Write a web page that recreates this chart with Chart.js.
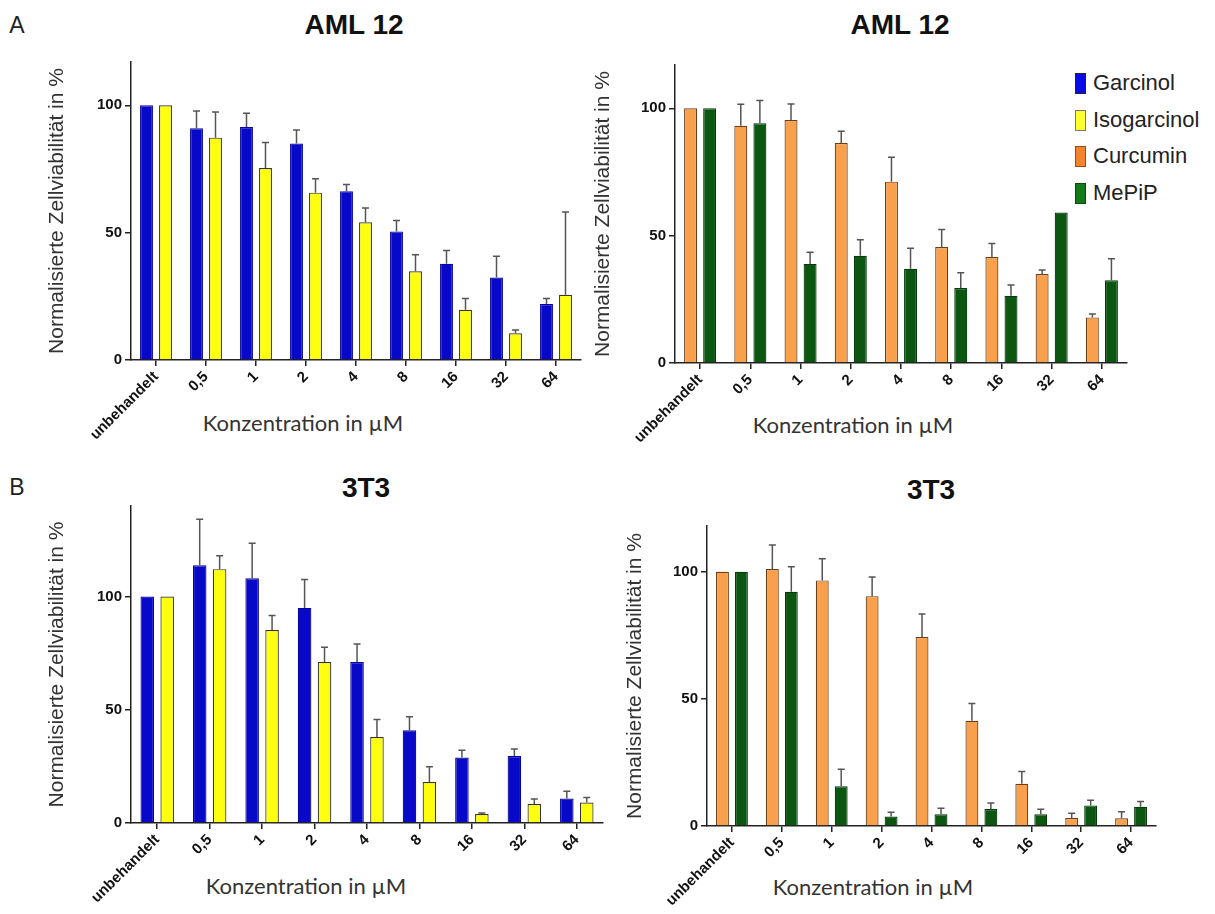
<!DOCTYPE html>
<html><head><meta charset="utf-8">
<script src="https://cdn.jsdelivr.net/npm/chart.js@4.4.0/dist/chart.umd.min.js"></script>
<style>
html,body{margin:0;padding:0;background:#fff;}
body{width:1215px;height:914px;position:relative;overflow:hidden;font-family:"Liberation Sans",Arial,sans-serif;}
canvas{position:absolute;}
.t{position:absolute;transform:translate(-50%,-50%);white-space:nowrap;color:#111;line-height:1;}
.panel{font-size:23px;color:#222;}
.title{font-size:28px;font-weight:bold;}
.xt{font-family:Lato,"Open Sans",sans-serif;font-size:22px;color:#333;}
.lg{position:absolute;left:1075px;display:flex;align-items:center;transform:translateY(-50%);}
.lg span.b{display:inline-block;width:11px;height:21px;box-sizing:border-box;border:1px solid #444;margin-right:7px;}
.lg span.l{font-size:22px;color:#222;}
</style></head><body>

<div class="t panel" style="left:17px;top:25px">A</div>
<div class="t panel" style="left:17px;top:487px">B</div>
<div class="t title" style="left:354px;top:25px">AML 12</div>
<div class="t title" style="left:900px;top:25px">AML 12</div>
<div class="t title" style="left:366px;top:488px">3T3</div>
<div class="t title" style="left:931px;top:490px">3T3</div>
<div class="t xt" style="left:303px;top:423px">Konzentration in µM</div>
<div class="t xt" style="left:853px;top:425px">Konzentration in µM</div>
<div class="t xt" style="left:306px;top:886px">Konzentration in µM</div>
<div class="t xt" style="left:873px;top:887px">Konzentration in µM</div>
<div id="legend"></div>

<canvas id="c1" width="600" height="420" style="left:0px;top:40px"></canvas>
<canvas id="c2" width="635" height="420" style="left:580px;top:40px"></canvas>
<canvas id="c3" width="612" height="434" style="left:0px;top:480px"></canvas>
<canvas id="c4" width="605" height="434" style="left:610px;top:480px"></canvas>

<script>
// ---- data ----
const categories = ['unbehandelt', '0,5', '1', '2', '4', '8', '16', '32', '64'];
const seriesNames = ['Garcinol', 'Isogarcinol', 'Curcumin', 'MePiP'];
const yTicks = [0, 50, 100];

// AML 12
const garcinolAML    = [100, 91.0, 91.5, 85.0, 66.3, 50.5, 37.8, 32.4, 22.0];
const garcinolAMLErr = [0, 6.8, 5.4, 5.3, 2.6, 4.3, 5.2, 8.3, 2.1];
const isoAML         = [100, 87.3, 75.4, 65.7, 54.1, 34.8, 19.7, 10.5, 25.6];
const isoAMLErr      = [0, 10.1, 10.0, 5.5, 5.6, 6.5, 4.4, 1.3, 32.5];
const curcuminAML    = [100, 93.1, 95.4, 86.4, 71.2, 45.5, 41.6, 34.9, 17.9];
const curcuminAMLErr = [0, 8.5, 6.3, 4.6, 9.6, 6.9, 5.3, 1.6, 1.3];
const mepipAML       = [100, 94.1, 38.9, 42.1, 37.0, 29.4, 26.4, 59.1, 32.5];
const mepipAMLErr    = [0, 9.0, 4.6, 6.3, 8.1, 6.0, 4.2, 0, 8.4];

// 3T3
const garcinol3T3    = [100, 113.8, 108.1, 95.0, 71.1, 41.0, 28.9, 29.6, 10.8];
const garcinol3T3Err = [0, 20.3, 15.5, 12.5, 7.9, 5.9, 3.2, 3.1, 3.2];
const iso3T3         = [100, 112.1, 85.2, 71.1, 38.0, 18.1, 4.0, 8.4, 9.0];
const iso3T3Err      = [0, 5.9, 6.4, 6.5, 7.7, 6.7, 0.4, 2.2, 2.3];
const curcumin3T3    = [100, 101.1, 96.6, 90.4, 74.3, 41.4, 16.6, 3.1, 3.0];
const curcumin3T3Err = [0, 9.4, 8.5, 7.5, 9.1, 6.8, 4.8, 1.9, 2.6];
const mepip3T3       = [100, 92.1, 15.6, 3.7, 4.6, 6.7, 4.6, 8.1, 7.6];
const mepip3T3Err    = [0, 9.9, 6.7, 1.7, 2.4, 2.3, 2.0, 2.0, 2.0];

// ---- styles ----
const styles = {
  Garcinol:    {bg:'#0808c8', border:'#06069a', legend:'#0a0ae6', legendBorder:'#223'},
  Isogarcinol: {bg:'#ffff10', border:'#333333', legend:'#ffff30', legendBorder:'#777'},
  Curcumin:    {bg:'#f9a04c', border:'#6b3e1a', legend:'#f5822c', legendBorder:'#8a5020'},
  MePiP:       {bg:'#0b5712', border:'#063a0a', legend:'#127a16', legendBorder:'#0a4a0c'}
};

const legendRows = [83, 120, 156, 193];
const lg = document.getElementById('legend');
seriesNames.forEach((n, i) => {
  const d = document.createElement('div');
  d.className = 'lg';
  d.style.top = legendRows[i] + 'px';
  d.innerHTML = '<span class="b" style="background:' + styles[n].legend + ';border-color:' + styles[n].legendBorder + '"></span><span class="l">' + n + '</span>';
  lg.appendChild(d);
});

const errorBars = {
  id: 'errorBars',
  afterDatasetsDraw(chart) {
    const ctx = chart.ctx, y = chart.scales.y;
    chart.data.datasets.forEach((ds, i) => {
      if (!ds.errors) return;
      const meta = chart.getDatasetMeta(i);
      meta.data.forEach((bar, j) => {
        const e = ds.errors[j];
        if (!e) return;
        const top = y.getPixelForValue(ds.data[j] + e);
        ctx.save();
        ctx.strokeStyle = '#555';
        ctx.lineWidth = 1.5;
        ctx.beginPath();
        ctx.moveTo(bar.x, bar.y);
        ctx.lineTo(bar.x, top);
        ctx.moveTo(bar.x - 3.5, top);
        ctx.lineTo(bar.x + 3.5, top);
        ctx.stroke();
        ctx.restore();
      });
    });
  }
};

function ds(name, data, errors) {
  return {
    label: name, data: data, errors: errors,
    backgroundColor: styles[name].bg, borderColor: styles[name].border,
    borderWidth: 1.2, borderSkipped: 'start',
    barPercentage: 0.68, categoryPercentage: 0.76
  };
}

function makeChart(id, datasets, layout) {
  new Chart(document.getElementById(id), {
    type: 'bar',
    data: {labels: categories, datasets: datasets},
    plugins: [errorBars],
    options: {
      responsive: false, animation: false, devicePixelRatio: 1,
      layout: {padding: {top: layout.padTop, right: layout.padRight, left: 0, bottom: 0}},
      plugins: {legend: {display: false}, tooltip: {enabled: false}},
      scales: {
        x: {
          offset: true,
          grid: {display: true, drawOnChartArea: false, drawTicks: true, tickLength: 6, offset: false, color: '#222', lineWidth: 1.5},
          border: {display: true, color: '#222', width: 1.5},
          ticks: {color: '#111', font: {family: 'Liberation Sans', weight: 'bold', size: 15}, minRotation: 45, maxRotation: 45, autoSkip: false, padding: 2},
          afterFit(s) { s.height = layout.xh; }
        },
        y: {
          min: 0, max: layout.max,
          afterBuildTicks(s) { s.ticks = yTicks.map(v => ({value: v})); },
          grid: {display: true, drawOnChartArea: false, drawTicks: true, tickLength: 6, color: '#222', lineWidth: 1.5},
          border: {display: true, color: '#222', width: 1.5},
          ticks: {color: '#111', font: {family: 'Liberation Sans', weight: 'bold', size: 15}, padding: 3},
          title: {display: true, text: 'Normalisierte Zellviabilität in %', color: '#333', font: {family: 'Liberation Sans', size: 21}, padding: {top: layout.titlePad, bottom: 0}},
          afterFit(s) { s.width = layout.yw; }
        }
      }
    }
  });
}

makeChart('c1', [ds('Garcinol', garcinolAML, garcinolAMLErr), ds('Isogarcinol', isoAML, isoAMLErr)],
  {padTop: 22, padRight: 19, xh: 100, yw: 131, max: 117, titlePad: 44.4});
makeChart('c2', [ds('Curcumin', curcuminAML, curcuminAMLErr), ds('MePiP', mepipAML, mepipAMLErr)],
  {padTop: 25, padRight: 88, xh: 97, yw: 95, max: 117, titlePad: 10.4});
makeChart('c3', [ds('Garcinol', garcinol3T3, garcinol3T3Err), ds('Isogarcinol', iso3T3, iso3T3Err)],
  {padTop: 26, padRight: 9, xh: 91, yw: 131, max: 140, titlePad: 44.4});
makeChart('c4', [ds('Curcumin', curcumin3T3, curcumin3T3Err), ds('MePiP', mepip3T3, mepip3T3Err)],
  {padTop: 46, padRight: 59, xh: 88, yw: 97, max: 118, titlePad: 12.4});
</script>
</body></html>
